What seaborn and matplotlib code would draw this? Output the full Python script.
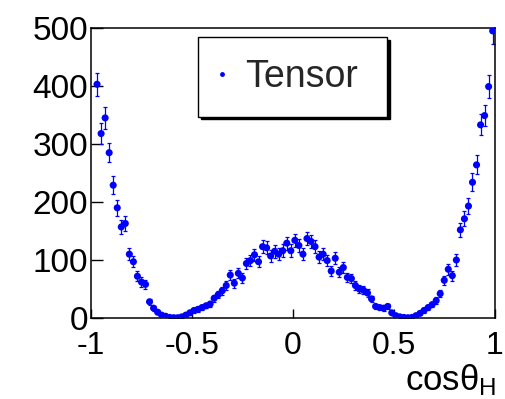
import numpy as np
import pandas as pd
import matplotlib
matplotlib.use("Agg")
import matplotlib.pyplot as plt
import seaborn as sns
from matplotlib.lines import Line2D

# cos(theta_H) distribution: 100 bins of width 0.02 on [-1, 1]
bin_lo, bin_hi, n_bins = -1.0, 1.0, 100
counts = [
    np.nan, 403, 318, 345, 285, 229, 190, 157, 163, 110,
    97, 72, 62, 58, 28, 17, 10, 5, 3, 1,
    0.5, 0.5, 2, 5, 9, 13, 15, 18, 21, 24,
    34, 40, 47, 56, 74, 60, 77, 69, 94, 99,
    109, 97, 123, 121, 107, 115, 110, 116, 129, 116,
    134, 125, 110, 137, 132, 123, 105, 110, 99, 81,
    103, 79, 87, 70, 68, 56, 50, 48, 43, 33,
    20, 18, 17, 20, 9, 4, 2, 1, 0.5, 1,
    4, 8, 13, 18, 23, 30, 42, 65, 84, 73,
    100, 152, 171, 193, 234, 264, 333, 349, 399, 495,
]
series_name = "Tensor"
x_ticks = [-1, -0.5, 0, 0.5, 1]
x_tick_labels = ["-1", "-0.5", "0", "0.5", "1"]
y_ticks = [0, 100, 200, 300, 400, 500]
y_tick_labels = ["0", "100", "200", "300", "400", "500"]
x_title = r"$\mathrm{cos\theta_H}$"

edges = np.linspace(bin_lo, bin_hi, n_bins + 1)
df = pd.DataFrame({"cos": 0.5 * (edges[:-1] + edges[1:]), "n": counts})
df["err"] = np.sqrt(df["n"])  # Poisson errors

sns.set_theme(style="white")
plt.rcParams["font.family"] = ["Liberation Sans", "DejaVu Sans"]
plt.rcParams["mathtext.fontset"] = "custom"
plt.rcParams["mathtext.rm"] = "Liberation Sans"
plt.rcParams["mathtext.it"] = "Liberation Sans"
plt.rcParams["axes.unicode_minus"] = False

W, H = 506, 399
fig = plt.figure(figsize=(W / 100, H / 100), dpi=100)
fig.patch.set_facecolor("white")
ax = fig.add_axes([91 / W, 1 - 318 / H, (494.7 - 91) / W, 290 / H])

ax.errorbar(df["cos"], df["n"], yerr=df["err"], fmt="none",
            ecolor="blue", elinewidth=0.9, capsize=1.1, capthick=0.9, zorder=2)
sns.scatterplot(data=df, x="cos", y="n", ax=ax, color="blue", s=26,
                edgecolor="none", linewidth=0, legend=False, zorder=3)

ax.set_xlim(bin_lo, bin_hi)
ax.set_ylim(0, 500)
ax.set_xticks(x_ticks)
ax.set_xticklabels(x_tick_labels)
ax.set_yticks(y_ticks)
ax.set_yticklabels(y_tick_labels)
ax.set_xlabel("")
ax.set_ylabel("")

for s in ax.spines.values():
    s.set_color("black")
    s.set_linewidth(1.1)
ax.tick_params(axis="y", direction="in", length=8.6, width=1, labelsize=24,
               pad=2, left=True, right=False, colors="black")
ax.tick_params(axis="x", direction="in", length=6.2, width=1, labelsize=23,
               pad=9, bottom=True, top=False, colors="black")

fig.text(496 / W, 1 - 390 / H, x_title, ha="right", va="baseline",
         fontsize=25, color="black")

handle = Line2D([], [], ls="none", marker="o", color="blue",
                markersize=3.5, markeredgewidth=0)
leg = ax.legend(handles=[handle], labels=[series_name], loc="upper left",
                bbox_to_anchor=(198 / W, 1 - 37 / H, 189 / W, 0),
                bbox_transform=fig.transFigure, mode="expand",
                borderaxespad=0, borderpad=0.58, handlelength=0.1,
                handletextpad=0.57, fontsize=27, frameon=True,
                fancybox=False, framealpha=1, edgecolor="black",
                shadow={"color": "black", "alpha": 1})
leg.get_frame().set_linewidth(1.0)

fig.savefig("out.png", dpi=100, facecolor="white")
